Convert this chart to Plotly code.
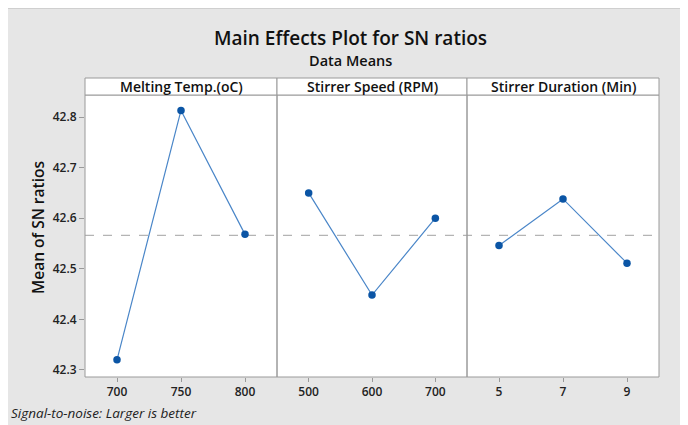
import plotly.graph_objects as go

# ---- data ----
panel_titles = ["Melting Temp.(oC)", "Stirrer Speed (RPM)", "Stirrer Duration (Min)"]
melt_levels = [700, 750, 800]
melt_sn = [42.320, 42.813, 42.568]
speed_levels = [500, 600, 700]
speed_sn = [42.650, 42.448, 42.600]
dur_levels = [5, 7, 9]
dur_sn = [42.546, 42.638, 42.511]
y_ticks = [42.3, 42.4, 42.5, 42.6, 42.7, 42.8]

levels = [melt_levels, speed_levels, dur_levels]
values = [melt_sn, speed_sn, dur_sn]
all_vals = melt_sn + speed_sn + dur_sn
overall_mean = sum(all_vals) / len(all_vals)

# ---- layout geometry (screen pixels; the page body adds an 8px offset) ----
OFF = 8
SW, SH = 688, 425
W, H = SW - OFF, SH - OFF
L, R, T, B = 85, 659, 78, 377
STRIP_B = 95
PW, PH = R - L, B - T
def px(x):
    return (x - L) / PW
def py(y):
    return (B - y) / PH

edges = [85, 277, 467, 659]
doms = [[px(edges[i]), px(edges[i + 1])] for i in range(3)]
ytop = py(STRIP_B)

FONT = "Open Sans"
GRAY = "#9a9a9a"
MARK = "#0b55a5"
LINE = "#4a86c8"

fig = go.Figure()
axnames = ["x", "x2", "x3"]
for i in range(3):
    fig.add_trace(go.Scatter(
        x=levels[i], y=values[i], mode="lines+markers",
        xaxis=axnames[i], yaxis="y",
        line=dict(color=LINE, width=1.2),
        marker=dict(color=MARK, size=7.5),
        showlegend=False, hoverinfo="x+y"))

def xr(lv):
    step = lv[1] - lv[0]
    return [lv[0] - 0.5 * step, lv[-1] + 0.5 * step]

tickfont = dict(family=FONT, size=12, color="#222222", weight=600)
layout = dict(
    width=W, height=H,
    margin=dict(l=L - OFF, r=SW - R, t=T - OFF, b=SH - B, pad=0),
    paper_bgcolor="#e6e6e6", plot_bgcolor="white",
    yaxis=dict(domain=[0, ytop], range=[42.286, 42.8435], tickvals=y_ticks,
               ticktext=[f"{v:.1f}" for v in y_ticks],
               ticks="outside", ticklen=5, tickcolor=GRAY, showgrid=False,
               zeroline=False, showline=False, tickfont=tickfont, anchor="x"),
)
for i in range(3):
    key = "xaxis" if i == 0 else f"xaxis{i+1}"
    layout[key] = dict(domain=doms[i], range=xr(levels[i]), tickvals=levels[i],
                       ticktext=[str(v) for v in levels[i]],
                       ticks="outside", ticklen=4, tickcolor=GRAY,
                       showgrid=False, zeroline=False, showline=False,
                       tickfont=tickfont, anchor="y")
fig.update_layout(**layout)

shapes = []
shapes.append(dict(type="line", xref="paper", yref="paper", x0=px(OFF), x1=px(SW + 5),
                   y0=py(OFF + 0.5), y1=py(OFF + 0.5), line=dict(color="#cfcfcf", width=1)))
shapes.append(dict(type="line", xref="paper", yref="y", x0=0, x1=1,
                   y0=overall_mean, y1=overall_mean,
                   line=dict(color="#b4b4b4", width=1.3, dash="dash"), layer="below"))
for i in range(3):
    shapes.append(dict(type="rect", xref="paper", yref="paper", x0=doms[i][0], x1=doms[i][1],
                       y0=0, y1=ytop, line=dict(color=GRAY, width=1)))
    shapes.append(dict(type="rect", xref="paper", yref="paper", x0=doms[i][0], x1=doms[i][1],
                       y0=ytop, y1=1, fillcolor="white", line=dict(color=GRAY, width=1)))

annotations = []
for i in range(3):
    annotations.append(dict(text=panel_titles[i], xref="paper", yref="paper",
                            x=(doms[i][0] + doms[i][1]) / 2, y=py(86.5),
                            showarrow=False, xanchor="center", yanchor="middle",
                            font=dict(family=FONT, size=14, color="#111111", weight=600)))
annotations.append(dict(text="Main Effects Plot for SN ratios", xref="paper", yref="paper",
                        x=px(350), y=py(38), showarrow=False, xanchor="center", yanchor="middle",
                        font=dict(family=FONT, size=19, color="#111111", weight=600)))
annotations.append(dict(text="Data Means", xref="paper", yref="paper",
                        x=px(350), y=py(60), showarrow=False, xanchor="center", yanchor="middle",
                        font=dict(family=FONT, size=14.5, color="#111111", weight=600)))
annotations.append(dict(text="Mean of SN ratios", xref="paper", yref="paper",
                        x=px(38), y=py(228), showarrow=False, xanchor="center", yanchor="middle",
                        textangle=-90,
                        font=dict(family=FONT, size=15.5, color="#111111", weight=600)))
annotations.append(dict(text="<i>Signal-to-noise: Larger is better</i>", xref="paper", yref="paper",
                        x=px(9), y=py(413), showarrow=False, xanchor="left", yanchor="middle",
                        font=dict(family=FONT, size=13.5, color="#222222")))
fig.update_layout(shapes=shapes, annotations=annotations)

fig.write_html("out.html")
